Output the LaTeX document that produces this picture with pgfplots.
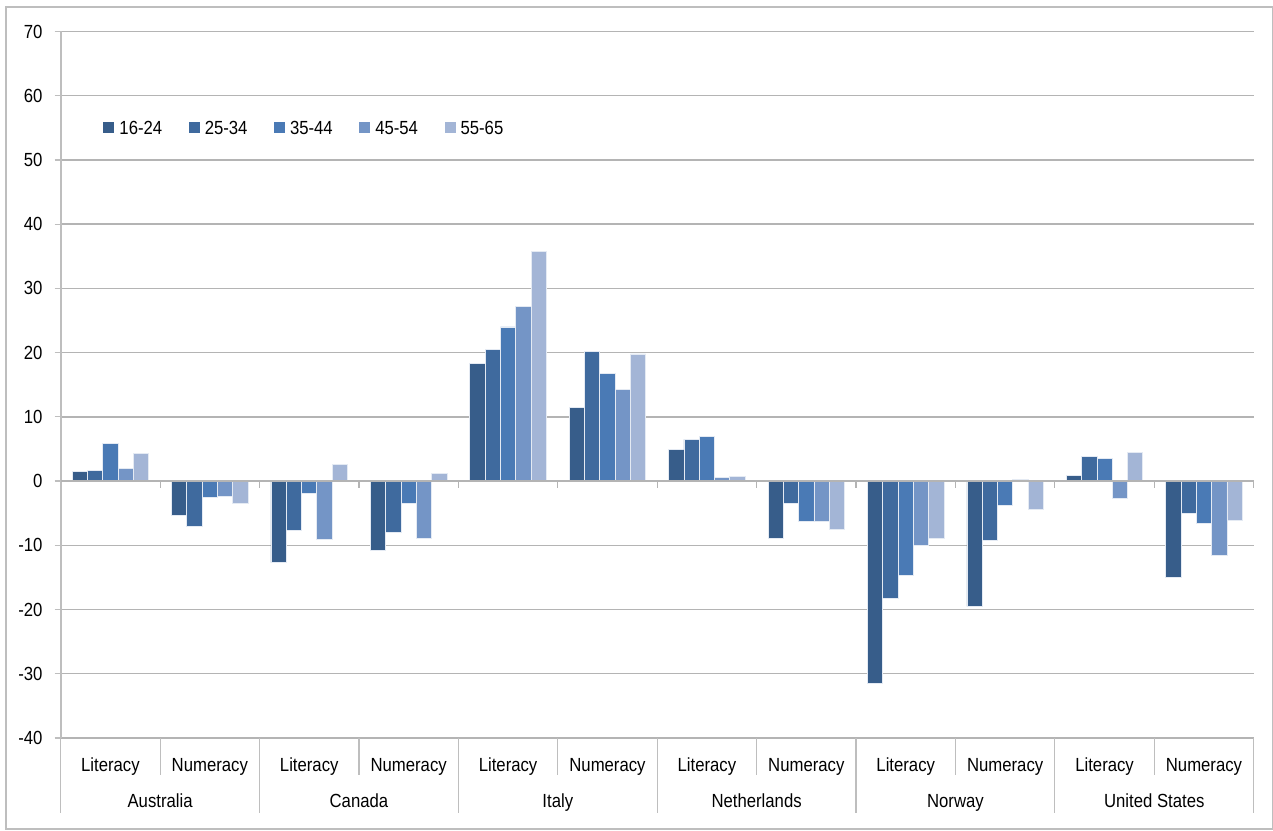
\documentclass[border=0pt]{standalone}
\usepackage{fontspec}
\setmainfont{Liberation Sans}[FakeStretch=0.88]
\usepackage{pgfplots}
\pgfplotsset{compat=1.18}
\usepackage{pgfplotstable}
\definecolor{cA}{RGB}{55,93,138}
\definecolor{cB}{RGB}{63,106,158}
\definecolor{cC}{RGB}{74,122,181}
\definecolor{cD}{RGB}{116,149,198}
\definecolor{cE}{RGB}{163,181,214}
\definecolor{gridc}{RGB}{180,180,180}
\definecolor{axc}{RGB}{190,190,190}
\definecolor{edgec}{RGB}{228,234,243}
\pgfplotstableread{
x a b c d e
0 1.5 1.7 5.9 2.0 4.3
1 -5.3 -7.1 -2.6 -2.4 -3.5
2 -12.7 -7.6 -1.9 -9.1 2.6
3 -10.8 -8.0 -3.4 -8.9 1.2
4 18.3 20.5 24.0 27.2 35.8
5 11.4 20.2 16.7 14.2 19.8
6 4.9 6.5 6.9 0.6 0.7
7 -9.0 -3.5 -6.2 -6.2 -7.5
8 -31.5 -18.3 -14.7 -10.0 -9.0
9 -19.5 -9.2 -3.8 0.3 -4.4
10 0.9 3.9 3.5 -2.7 4.4
11 -15.0 -5.0 -6.6 -11.6 -6.1
}\datatable
\newcommand{\lf}{\fontsize{19pt}{22pt}\selectfont}
\begin{document}
\begin{tikzpicture}
\useasboundingbox (0pt,0pt) rectangle (1273pt,830pt);
\draw[axc, line width=1.2pt] (6pt,1pt) rectangle (1272.4pt,823pt);
\begin{axis}[
  at={(60.7pt,92pt)}, anchor=south west,
  scale only axis, width=1193pt, height=706.5pt,
  xmin=-0.5, xmax=11.5, ymin=-40, ymax=70,
  ytick={-40,-30,...,70},
  xtick={0,1,...,11},
  xticklabels={Literacy,Numeracy,Literacy,Numeracy,Literacy,Numeracy,Literacy,Numeracy,Literacy,Numeracy,Literacy,Numeracy},
  xticklabel style={anchor=base, yshift=-27.7pt, inner sep=0pt, font=\lf},
  extra x ticks={0.5,2.5,4.5,6.5,8.5,10.5},
  extra x tick labels={Australia,Canada,Italy,Netherlands,Norway,United States},
  extra x tick style={grid=none, major tick length=0pt, xticklabel style={yshift=-41.6pt}},
  xtick style={draw=none},
  ytick style={axc, line width=1.2pt},
  tick align=outside, major tick length=6pt,
  yticklabel style={anchor=east, inner sep=0pt, xshift=-12pt, font=\lf},
  /pgf/number format/assume math mode=true,
  ymajorgrids, grid style={gridc, line width=1.4pt},
  axis x line*=bottom, axis y line*=left,
  x axis line style={draw=none},
  y axis line style={axc, line width=1.6pt},
  clip=false,
  ybar=0pt, bar width=15.3pt,
  every axis plot/.append style={draw=edgec, line width=0.8pt},
  legend columns=5,
  legend style={at={(0.0357,0.8634)}, anchor=west, draw=none, fill=none, inner sep=0pt,
    font=\lf, nodes={inner sep=0pt, text depth=0pt},
    /tikz/every odd column/.append style={column sep=5pt},
    /tikz/every even column/.append style={column sep=26.5pt}},
  legend image code/.code={\fill[#1, draw=none] (0pt,-5.5pt) rectangle (11pt,5.5pt);},
]
\addplot[fill=cA] table[x=x,y=a]{\datatable};
\addplot[fill=cB] table[x=x,y=b]{\datatable};
\addplot[fill=cC] table[x=x,y=c]{\datatable};
\addplot[fill=cD] table[x=x,y=d]{\datatable};
\addplot[fill=cE] table[x=x,y=e]{\datatable};
\legend{16-24,25-34,35-44,45-54,55-65}
% zero line with category ticks
\draw[gridc, line width=1.4pt] (axis cs:-0.5,0) -- (axis cs:11.5,0);
\pgfplotsinvokeforeach{0.5,1.5,2.5,3.5,4.5,5.5,6.5,7.5,8.5,9.5,10.5,11.5}{
  \draw[gridc, line width=1.2pt] (axis cs:#1,0) -- ([yshift=-6.5pt]axis cs:#1,0);
}
% bottom category separators
\pgfplotsinvokeforeach{0.5,2.5,4.5,6.5,8.5,10.5}{
  \draw[axc, line width=1.2pt] (axis cs:#1,-40) -- ([yshift=-37pt]axis cs:#1,-40);
}
\pgfplotsinvokeforeach{-0.5,1.5,3.5,5.5,7.5,9.5,11.5}{
  \draw[axc, line width=1.2pt] (axis cs:#1,-40) -- ([yshift=-75pt]axis cs:#1,-40);
}
\end{axis}
\end{tikzpicture}
\end{document}
